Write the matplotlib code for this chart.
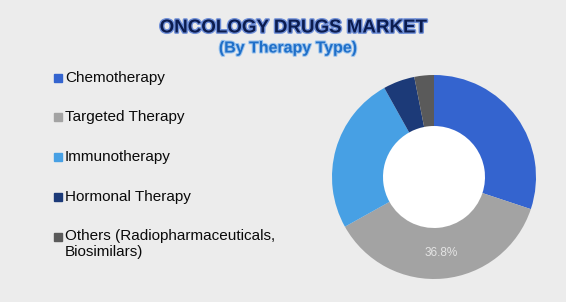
import matplotlib
matplotlib.use("Agg")
import matplotlib.pyplot as plt
import matplotlib.patheffects as pe
import numpy as np

categories = ["Chemotherapy", "Targeted Therapy", "Immunotherapy",
              "Hormonal Therapy", "Others (Radiopharmaceuticals,\nBiosimilars)"]
shares = [30.1, 36.8, 25.0, 5.0, 3.1]
colors = ["#3464cf", "#a3a3a3", "#47a0e4", "#1c3a78", "#5a5a5a"]
shown_label = "36.8%"

plt.rcParams['font.family'] = ['Liberation Sans', 'DejaVu Sans']

fig = plt.figure(figsize=(5.66, 3.02), dpi=100)
fig.patch.set_facecolor("#ececec")

W, H = 566, 302
r = 102
cx, cy = 434, 177
ax = fig.add_axes([(cx - r) / W, 1 - (cy + r) / H, 2 * r / W, 2 * r / H])
ax.set_facecolor("none")
wedges, _ = ax.pie(shares, colors=colors, startangle=90, counterclock=False,
                   wedgeprops=dict(width=0.5, edgecolor="none"), radius=1.0)
ax.set_xlim(-1, 1)
ax.set_ylim(-1, 1)
ax.set_aspect("auto")
ax.add_patch(plt.Circle((0, 0), 0.5, color="white", zorder=0))

start = 90 - shares[0] / 100 * 360
mid = start - shares[1] / 100 * 360 / 2
ang = np.deg2rad(mid)
ax.text(0.75 * np.cos(ang), 0.75 * np.sin(ang), shown_label, ha="center",
        va="center", fontsize=8.5, color="#e4e4e4")

fig.text(293 / W, 1 - 28 / H, "ONCOLOGY DRUGS MARKET", ha="center", va="center",
         fontsize=13.5, fontweight="bold", color="#0b1c4f",
         path_effects=[pe.withStroke(linewidth=2, foreground="#6f8fd8")])
fig.text(288 / W, 1 - 48 / H, "(By Therapy Type)", ha="center", va="center",
         fontsize=11.5, fontweight="bold", color="#1f6fc8",
         path_effects=[pe.withStroke(linewidth=1.5, foreground="#9cc4ee")])

rows_y = [78, 117, 157, 197, 237]
for cat, col, y in zip(categories, colors, rows_y):
    fig.patches.append(plt.Rectangle((54 / W, 1 - (y + 4) / H), 8 / W, 8 / H,
                                     transform=fig.transFigure, color=col,
                                     figure=fig))
    if "\n" in cat:
        fig.text(65 / W, 1 - (y - 8) / H, cat, ha="left", va="top",
                 fontsize=11, color="#0a0a0a", linespacing=1.2)
    else:
        fig.text(65 / W, 1 - y / H, cat, ha="left", va="center",
                 fontsize=11, color="#0a0a0a")

fig.savefig("out.png", dpi=100, facecolor=fig.get_facecolor())
